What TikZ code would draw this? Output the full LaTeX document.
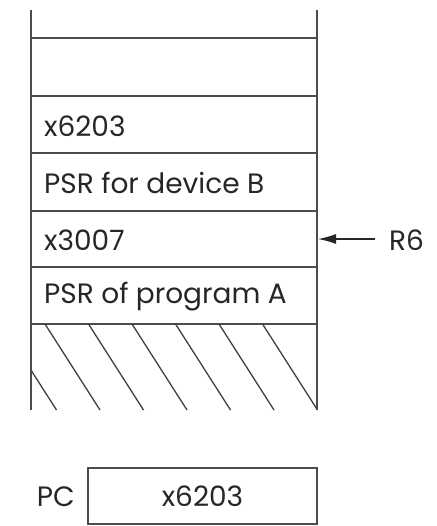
\documentclass[tikz,border=0pt]{standalone}
\usepackage{fontspec}
\setmainfont{Poppins}
\usetikzlibrary{arrows.meta}
\begin{document}
\begin{tikzpicture}[x=1pt,y=-1pt,
  ln/.style={line width=1.6pt,draw=black!70},
  thin/.style={line width=1.3pt,draw=black!75},
  celltxt/.style={anchor=west,inner sep=0pt,font=\fontsize{28}{32}\selectfont,text=black!85},
  lbl/.style={inner sep=0pt,font=\fontsize{28}{32}\selectfont,text=black!85}]
\useasboundingbox (0,0) rectangle (436,526);
% stack walls
\draw[ln] (31,10) -- (31,410);
\draw[ln] (317,10) -- (317,410);
\foreach \y in {38,96,153,211,267,324}
  \draw[ln] (31,\y) -- (317,\y);
% hatching
\begin{scope}
  \clip (31,324) rectangle (317,410);
  \foreach \k in {-1,...,5}
    \draw[thin] ({45+43.5*\k},324) -- ({100+43.5*\k},410);
\end{scope}
% cell texts
\node[celltxt] (c1) at (44,126) {x6203};
\node[celltxt] (c2) at (44,183) {PSR for device B};
\node[celltxt] (c3) at (44,240) {x3007};
\node[celltxt] (c4) at (44,297) {PSR of program A};
\coordinate (r6tip) at (318,239);
\node[lbl,anchor=west] (r6) at (389,240) {R6};
\draw[line width=1.4pt,draw=black!85,-{Latex[length=18pt,width=10pt]}] (r6.west) ++(-14,-1) -- (r6tip);
% PC register
\node[draw=black!70,line width=1.6pt,minimum width=229pt,minimum height=56pt,inner sep=0pt,lbl] (pc) at (202.5,496) {x6203};
\node[lbl,anchor=east] (pclbl) at (75,497) {PC};
\end{tikzpicture}
\end{document}
